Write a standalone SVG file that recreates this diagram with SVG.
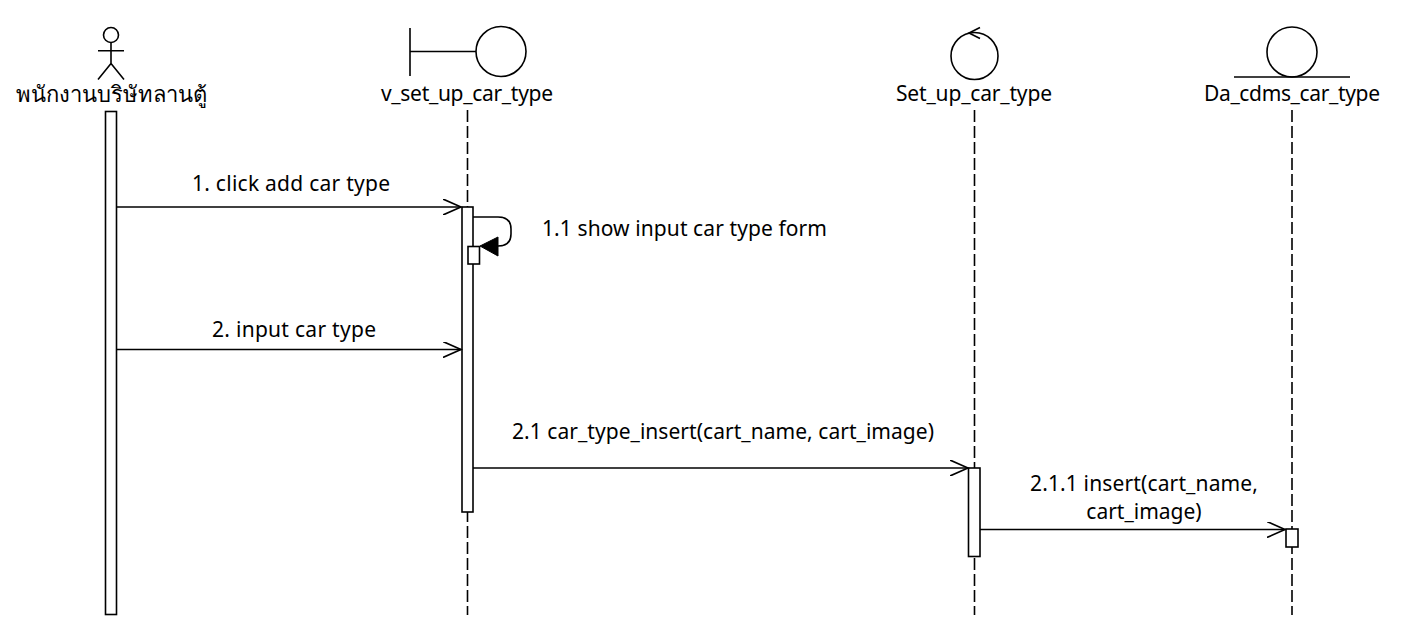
<svg xmlns="http://www.w3.org/2000/svg" width="1412" height="644" viewBox="0 0 1412 644">
<style>
.s{fill:none;stroke:#000;stroke-width:1.6}
.b{fill:#fff;stroke:#000;stroke-width:1.6}
.l{fill:none;stroke:#000;stroke-width:1.6;stroke-dasharray:12 4}
text{font-family:"Noto Sans","Open Sans","DejaVu Sans",sans-serif;font-size:21px;fill:#000;text-anchor:middle}
.th{font-size:22px}
</style>
<defs>
<marker id="o" markerUnits="userSpaceOnUse" markerWidth="20" markerHeight="16" refX="18" refY="8" orient="auto"><path d="M0 0L18 8L0 16" fill="none" stroke="#000" stroke-width="1.6"/></marker>
</defs>
<rect width="1412" height="644" fill="#fff"/>
<g id="lifelines">
<line class="l" x1="467.500" y1="110" x2="467.500" y2="615"/>
<line class="l" x1="974.500" y1="110" x2="974.500" y2="615"/>
<line class="l" x1="1292" y1="110" x2="1292" y2="615"/>
</g>
<g id="actor">
<circle class="s" cx="111" cy="35" r="7.500"/>
<path class="s" d="M111 42.500V63.500M98 50.700H124M111 63.500L98 79.500M111 63.500L124 79.500"/>
<text class="th" x="111" y="102">พนักงานบริษัทลานตู้</text>
<rect class="b" x="105.500" y="111.500" width="11" height="503"/>
</g>
<g id="v_set_up_car_type">
<path class="s" d="M410 28V76M410 51.500H476"/>
<circle class="b" cx="501" cy="51.500" r="25"/>
<text x="467" y="101" textLength="172">v_set_up_car_type</text>
<rect class="b" x="462" y="207" width="11" height="305"/>
<rect class="b" x="468" y="246.500" width="11.500" height="17.500"/>
</g>
<g id="Set_up_car_type">
<circle class="s" cx="974.500" cy="56" r="23.500"/>
<path class="s" d="M980 27.500L969 33L980 38.500"/>
<text x="974" y="101" textLength="156">Set_up_car_type</text>
<rect class="b" x="968.500" y="468" width="11.500" height="88.500"/>
</g>
<g id="Da_cdms_car_type">
<circle class="s" cx="1292" cy="52" r="25"/>
<path class="s" d="M1234 77H1350"/>
<text x="1292" y="101" textLength="176">Da_cdms_car_type</text>
<rect class="b" x="1286" y="529" width="12" height="18"/>
</g>
<g id="connectors">
<line class="s" x1="117" y1="207" x2="461" y2="207" marker-end="url(#o)"/>
<path class="s" d="M473 217H498Q511 217 511 229V234Q511 246 498 246H482"/>
<path d="M480 246L498 237V256Z" fill="#000" stroke="#000"/>
<line class="s" x1="117" y1="349.500" x2="461" y2="349.500" marker-end="url(#o)"/>
<line class="s" x1="473" y1="468" x2="968" y2="468" marker-end="url(#o)"/>
<line class="s" x1="980" y1="529.500" x2="1285" y2="529.500" marker-end="url(#o)"/>
</g>
<g id="labels">
<text x="291" y="191" textLength="198">1. click add car type</text>
<text x="684.500" y="236" textLength="285">1.1 show input car type form</text>
<text x="294" y="337" textLength="164">2. input car type</text>
<text x="723" y="439" textLength="422">2.1 car_type_insert(cart_name, cart_image)</text>
<text x="1144" y="491" textLength="228">2.1.1 insert(cart_name,</text>
<text x="1144" y="519">cart_image)</text>
</g>
</svg>
